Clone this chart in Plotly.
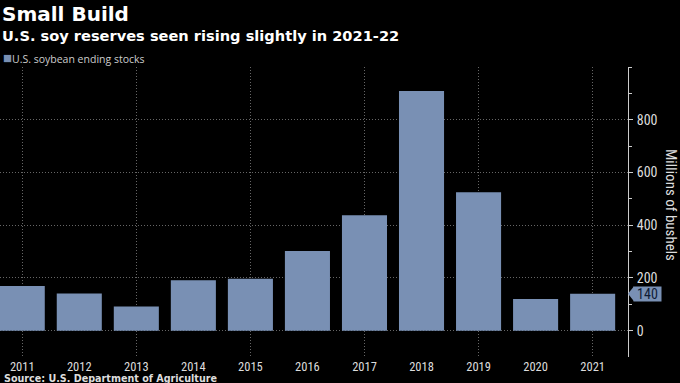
import plotly.graph_objects as go

# ---- data ----
years = [2011, 2012, 2013, 2014, 2015, 2016, 2017, 2018, 2019, 2020, 2021]
stocks = [169, 141, 92, 191, 197, 302, 438, 909, 525, 120, 140]
y_tickvals = [0, 200, 400, 600, 800]
y_minor_vals = [100, 300, 500, 700, 900, 1000]
grid_years = [2011, 2013, 2015, 2017, 2019, 2021]
series_name = "U.S. soybean ending stocks"

# ---- style ----
BAR = "#7990b4"
TXT = "#dddddd"
GRID = "#666666"
W, H = 680, 383
ML, MR, MT, MB = 0, 52, 67, 26
PLOT_H = H - MT - MB
PLOT_W = W - ML - MR
TICKFONT = "Liberation Sans Narrow, Roboto Condensed, Roboto, sans-serif"
DOTS = "1px,2px"


def py(p):
    return (H - MB - p) / PLOT_H


def px(p):
    return (p - ML) / PLOT_W


fig = go.Figure()
fig.add_trace(go.Bar(x=years, y=stocks, name=series_name, marker=dict(color=BAR, line=dict(width=0)),
                     showlegend=False))
# invisible trace for the overlay axis that carries the vertical grid
fig.add_trace(go.Scatter(x=[years[0]], y=[0], xaxis="x2", mode="markers",
                         marker=dict(opacity=0), showlegend=False, hoverinfo="skip"))

xr = [2010.61, 2021.62]
fig.update_layout(
    width=W, height=H,
    margin=dict(l=ML, r=MR, t=MT, b=MB, autoexpand=False),
    paper_bgcolor="black", plot_bgcolor="black",
    bargap=0.21,
    showlegend=False,
    xaxis=dict(range=xr, tickvals=years, ticktext=[str(y) for y in years], showgrid=False,
               automargin=False, zeroline=False, ticks="", ticklabelstandoff=0,
               tickfont=dict(color=TXT, size=12.5, family=TICKFONT)),
    xaxis2=dict(range=xr, overlaying="x", matches="x", tickvals=grid_years, showticklabels=False,
                automargin=False, showgrid=True, gridcolor=GRID, griddash=DOTS, gridwidth=1,
                zeroline=False, ticks=""),
    yaxis=dict(side="right", range=[-100, 1000], tickvals=y_tickvals, showgrid=True, automargin=False,
               gridcolor=GRID, griddash=DOTS, gridwidth=1, zeroline=False,
               showline=True, linecolor="#cccccc", linewidth=1,
               ticks="outside", ticklen=4, tickcolor="#cccccc", ticklabelstandoff=1,
               minor=dict(tickvals=y_minor_vals, ticks="outside", ticklen=3, tickcolor="#cccccc", showgrid=False),
               tickfont=dict(color=TXT, size=14, family=TICKFONT)),
)

last = stocks[-1]
ann = [
    dict(text="<b>Small Build</b>", x=px(0), y=py(14), xref="paper", yref="paper", xanchor="left",
         yanchor="middle", showarrow=False, font=dict(family="DejaVu Sans", size=20, color="white")),
    dict(text="<b>U.S. soy reserves seen rising slightly in 2021-22</b>", x=px(0), y=py(35), xref="paper",
         yref="paper", xanchor="left", yanchor="middle", showarrow=False,
         font=dict(family="DejaVu Sans", size=14.6, color="white")),
    dict(text=f'<span style="color:{BAR};font-size:15px">■</span>{series_name}', x=px(1), y=py(57), xref="paper",
         yref="paper", xanchor="left", yanchor="middle", showarrow=False,
         font=dict(family="Open Sans", size=10.5, color="#cccccc")),
    dict(text="<b>Source: U.S. Department of Agriculture</b>", x=px(2), y=py(378.5), xref="paper",
         yref="paper", xanchor="left", yanchor="middle", showarrow=False,
         font=dict(family="DejaVu Sans", size=9.6, color="#dddddd")),
    dict(text="Millions of bushels", textangle=90, x=px(671), y=py(205), xref="paper", yref="paper",
         xanchor="center", yanchor="middle", showarrow=False,
         font=dict(family=TICKFONT, size=15, color=TXT)),
    dict(text=str(last), x=px(633), y=last, xref="paper", yref="y", xanchor="left", yanchor="middle",
         showarrow=False, bgcolor=BAR, width=27, height=14, borderpad=0,
         font=dict(family=TICKFONT, size=14, color="#101c36")),
]
fig.update_layout(annotations=ann)

unit = PLOT_H / 1100.0  # px per value unit
half = 7.5 / unit
fig.add_shape(type="path", xref="paper", yref="y",
              path=f"M {px(628)},{last} L {px(634)},{last + half} L {px(634)},{last - half} Z",
              fillcolor=BAR, line=dict(width=0))

fig.write_html("out.html", config={"displayModeBar": False},
               post_script="document.body.style.margin='0';document.body.style.background='black';")
